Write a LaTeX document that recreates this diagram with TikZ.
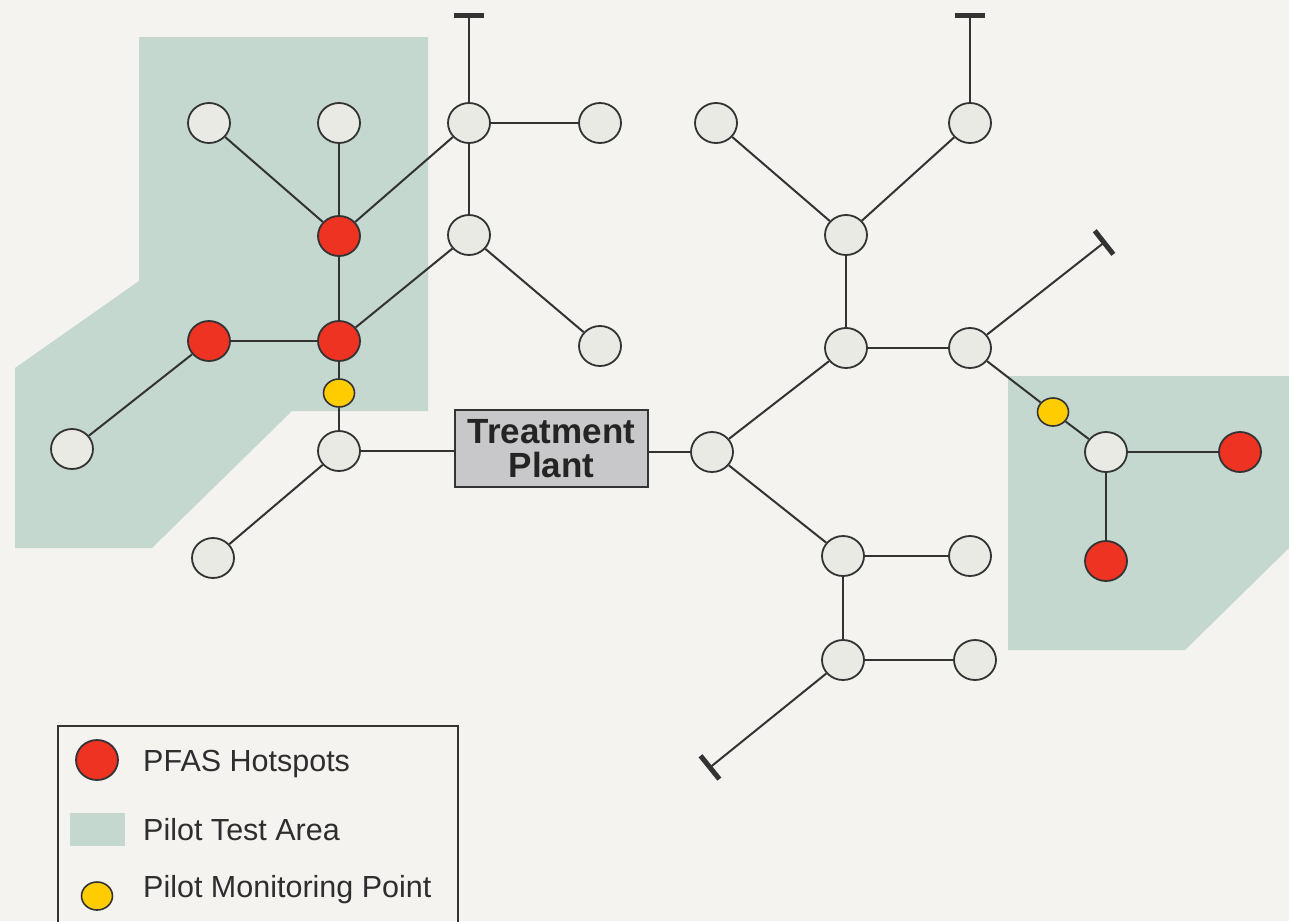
\documentclass[tikz,border=0pt]{standalone}
\usepackage{fontspec}
\setmainfont{Liberation Sans}
\usetikzlibrary{shapes.geometric,arrows.meta}
\definecolor{bg}{HTML}{F4F3EF}
\definecolor{area}{HTML}{C4D8D0}
\definecolor{nodefill}{HTML}{EAEAE4}
\definecolor{hot}{HTML}{EE3322}
\definecolor{mon}{HTML}{FFCC00}
\definecolor{plant}{HTML}{C8C8CA}
\definecolor{ink}{HTML}{333333}
\tikzset{
  pipe/.style={draw=ink, line width=2pt},
  capped/.style={pipe, -{Bar[width=30pt,line width=5pt]}},
  junction/.style={ellipse, draw=ink, line width=1.8pt, fill=nodefill, minimum width=42pt, minimum height=40pt, inner sep=0pt},
  hotspot/.style={junction, fill=hot},
  monitor/.style={ellipse, draw=ink, line width=1.6pt, fill=mon, minimum width=31pt, minimum height=28pt, inner sep=0pt},
  plantbox/.style={rectangle, draw=ink, line width=2pt, fill=plant, minimum width=193pt, minimum height=77pt, inner sep=0pt, align=center, text=ink!70!black, font=\fontsize{35}{34}\selectfont\bfseries},
  legtext/.style={anchor=west, inner sep=0pt, font=\fontsize{30.5}{36}\selectfont, text=ink!90!black},
}
\begin{document}
\begin{tikzpicture}[x=1pt,y=-1pt]
\fill[bg] (0,0) rectangle (1289,921);
\useasboundingbox (0,0) rectangle (1289,921);
% pilot test areas
\fill[area] (139,37) -- (428,37) -- (428,411) -- (292,411) -- (152,548) -- (15,548) -- (15,368) -- (139,281) -- cycle;
\fill[area] (1008,376) -- (1289,376) -- (1289,548) -- (1185,650) -- (1008,650) -- cycle;
% nodes
\node[junction] (a1) at (209,123) {};
\node[junction] (a2) at (339,123) {};
\node[junction] (a3) at (469,123) {};
\node[junction] (a4) at (600,123) {};
\node[hotspot] (r1) at (339,236) {};
\node[junction] (b) at (469,235) {};
\node[junction] (c) at (600,346) {};
\node[hotspot] (r2) at (209,341) {};
\node[hotspot] (r3) at (339,341) {};
\node[monitor] (y1) at (339,393) {};
\node[junction] (d) at (339,451) {};
\node[junction] (e) at (72,449) {};
\node[junction] (f) at (213,558) {};
\node[plantbox] (tp) at (551.5,448.5) {Treatment\\Plant};
\node[junction] (g) at (712,452) {};
\node[junction] (h) at (846,348) {};
\node[junction] (i) at (970,348) {};
\node[junction] (j) at (846,235) {};
\node[junction] (k) at (716,123) {};
\node[junction] (l) at (970,123) {};
\node[monitor] (y2) at (1053,412) {};
\node[junction] (n) at (1106,452) {};
\node[hotspot] (r4) at (1240,452) {};
\node[hotspot] (r5) at (1106,561) {};
\node[junction] (o) at (843,556) {};
\node[junction] (p) at (970,556) {};
\node[junction] (q) at (843,660) {};
\node[junction] (s) at (975,660) {};
\coordinate (capa) at (469,13);
\coordinate (capl) at (970,13);
\coordinate (capi) at (1106,241);
\coordinate (capq) at (708,769);
% pipes
\draw[pipe] (a1) -- (r1);
\draw[pipe] (a2) -- (r1);
\draw[pipe] (r1) -- (a3);
\draw[pipe] (a3) -- (a4);
\draw[pipe] (a3) -- (b);
\draw[capped] (a3) -- (capa);
\draw[pipe] (r1) -- (r3);
\draw[pipe] (r3) -- (r2);
\draw[pipe] (r3) -- (b);
\draw[pipe] (b) -- (c);
\draw[pipe] (r2) -- (e);
\draw[pipe] (r3) -- (y1);
\draw[pipe] (y1) -- (d);
\draw[pipe] (d) -- (f);
\draw[pipe] (d.east) -- (d.east -| tp.west);
\draw[pipe] (g.west) -- (g.west -| tp.east);
\draw[pipe] (g) -- (h);
\draw[pipe] (h) -- (i);
\draw[pipe] (h) -- (j);
\draw[pipe] (j) -- (k);
\draw[pipe] (j) -- (l);
\draw[capped] (l) -- (capl);
\draw[capped] (i) -- (capi);
\draw[pipe] (i) -- (y2);
\draw[pipe] (y2) -- (n);
\draw[pipe] (n) -- (r4);
\draw[pipe] (n) -- (r5);
\draw[pipe] (g) -- (o);
\draw[pipe] (o) -- (p);
\draw[pipe] (o) -- (q);
\draw[pipe] (q) -- (s);
\draw[capped] (q) -- (capq);
% legend
\draw[draw=ink, line width=2pt] (58,925) -- (58,726) -- (458,726) -- (458,925);
\node[hotspot] (lh) at (97,760) {};
\fill[area] (70,813) rectangle (125,846);
\coordinate (la) at (97,829);
\node[monitor] (lm) at (97,896) {};
\node[legtext] (th) at (143,764) {PFAS Hotspots};
\node[legtext] (ta) at (143,830) {Pilot Test Area};
\node[legtext] (tm) at (143,890) {Pilot Monitoring Point};
\end{tikzpicture}
\end{document}
